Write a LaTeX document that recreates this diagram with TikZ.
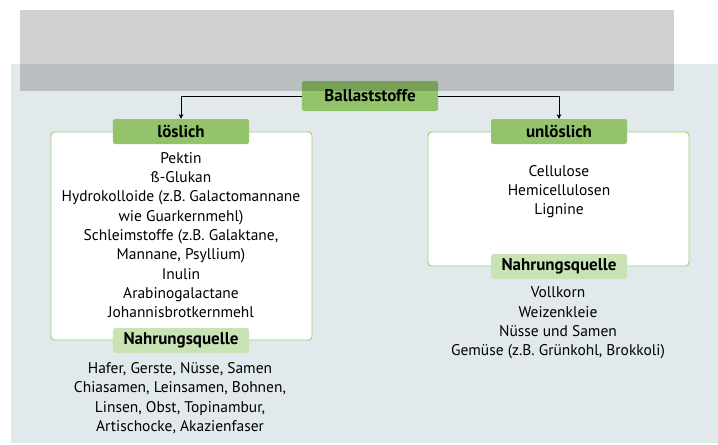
\documentclass[tikz,border=0pt]{standalone}
\usepackage{fontspec}
\setmainfont{PT Sans}
\usetikzlibrary{arrows.meta}

\definecolor{bgblau}{HTML}{E2E9EC}
\definecolor{gruen}{HTML}{93C46B}
\definecolor{hellgruen}{HTML}{C9E3B5}
\definecolor{rahmen}{HTML}{9BCF70}

\begin{document}
\begin{tikzpicture}[x=0.03cm, y=-0.03cm,
  tab/.style={fill=gruen, rounded corners=2pt, minimum width=4.08cm, minimum height=0.75cm, inner sep=0pt, font=\bfseries\fontsize{14.5}{16}\selectfont},
  quelle/.style={tab, fill=hellgruen},
  kasten/.style={draw=rahmen, line width=0.8pt, fill=white, rounded corners=3pt},
  liste/.style={align=center, inner sep=0pt, font=\fontsize{13.2}{16.5}\selectfont},
  pfeil/.style={-{Stealth[length=4pt,width=4pt]}, line width=0.6pt}]
  \useasboundingbox (0,0) rectangle (718,445);
  % hintergrund
  \fill[bgblau] (11,64) rectangle (718,443);
  % kaesten
  \draw[kasten] (51,132) rectangle (312,340);
  \draw[kasten] (428,132) rectangle (689,266);
  % titel
  \node[tab, minimum height=0.9cm] (ball) at (370,96) {Ballaststoffe};
  \node[tab] (loes) at (181,131.5) {löslich};
  \node[tab] (unloes) at (559,131.5) {unlöslich};
  \node[quelle] (qloes) at (181,340.5) {Nahrungsquelle};
  \node[quelle] (qunloes) at (559,266.5) {Nahrungsquelle};
  % listen
  \node[liste] (lloes) at (181,235) {Pektin\\ß-Glukan\\Hydrokolloide (z.B. Galactomannane\\wie Guarkernmehl)\\Schleimstoffe (z.B. Galaktane,\\Mannane, Psyllium)\\Inulin\\Arabinogalactane\\Johannisbrotkernmehl};
  \node[liste] (lunloes) at (559,191.5) {Cellulose\\Hemicellulosen\\Lignine};
  \node[liste] (nloes) at (180,398) {Hafer, Gerste, Nüsse, Samen\\Chiasamen, Leinsamen, Bohnen,\\Linsen, Obst, Topinambur,\\Artischocke, Akazienfaser};
  \node[liste] (nunloes) at (558,323) {Vollkorn\\Weizenkleie\\Nüsse und Samen\\Gemüse (z.B. Grünkohl, Brokkoli)};
  % pfeile
  \draw[pfeil] (ball.west) -| (loes.north);
  \draw[pfeil] (ball.east) -| (unloes.north);
  % graue ueberlagerung
  \fill[black, opacity=0.18] (20,10) rectangle (674,91);
\end{tikzpicture}
\end{document}
